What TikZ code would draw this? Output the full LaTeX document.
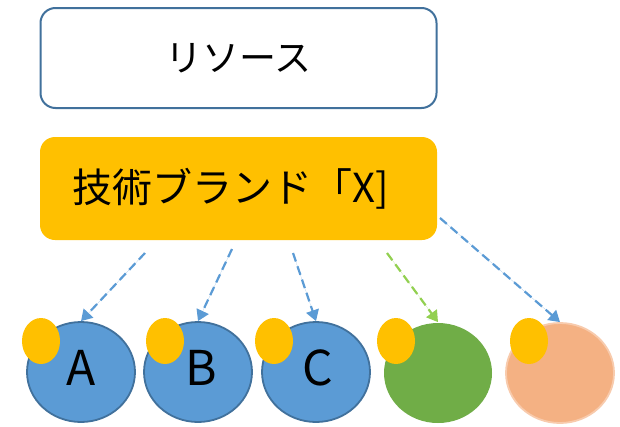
\documentclass[tikz,border=0pt]{standalone}
\usepackage{fontspec}
\setmainfont{Noto Sans CJK JP}
\usetikzlibrary{arrows.meta,shapes.geometric}
\definecolor{boxblue}{HTML}{41719C}
\definecolor{gold}{HTML}{FFC000}
\definecolor{cblue}{HTML}{5B9BD5}
\definecolor{cgreen}{HTML}{70AD47}
\definecolor{agreen}{HTML}{92D050}
\definecolor{peach}{HTML}{F4B183}
\definecolor{peachline}{HTML}{F8CBAD}
\tikzset{
  x=1pt, y=-1pt,
  topbox/.style={draw=boxblue, line width=2pt, fill=white, rounded corners=15pt, minimum width=396pt, minimum height=100pt, inner sep=0pt},
  brandbox/.style={fill=gold, rounded corners=15pt, minimum width=397pt, minimum height=103pt, inner sep=0pt},
  unit/.style={ellipse, minimum width=108pt, minimum height=100pt, inner sep=0pt, line width=1.8pt},
  dot/.style={ellipse, fill=gold, minimum width=38pt, minimum height=46pt, inner sep=0pt},
  link/.style={dash pattern=on 9pt off 5pt, line width=2.2pt, -{Triangle[width=13pt,length=11pt]}},
}
\begin{document}
\begin{tikzpicture}
\useasboundingbox[fill=white] (0,0) rectangle (620,426);
\node[topbox] (res) at (238.5,58) {\fontsize{37pt}{40pt}\selectfont リソース};
\node[brandbox] (brand) at (238.5,188.5) {};
\node[anchor=west, inner sep=0pt] (brandtxt) at (72,189) {\fontsize{40pt}{44pt}\selectfont 技術ブランド「X]};
\node[unit, draw=boxblue, fill=cblue] (cA) at (81,372) {};
\node[unit, draw=boxblue, fill=cblue] (cB) at (198,372) {};
\node[unit, draw=boxblue, fill=cblue] (cC) at (316,372) {};
\node[unit, fill=cgreen] (cD) at (438,373) {};
\node[unit, draw=peachline, fill=peach] (cE) at (560,373) {};
\node[inner sep=0pt] (lA) at (81,368) {\fontsize{48pt}{50pt}\selectfont A};
\node[inner sep=0pt] (lB) at (201,368) {\fontsize{48pt}{50pt}\selectfont B};
\node[inner sep=0pt] (lC) at (318,368) {\fontsize{48pt}{50pt}\selectfont C};
\node[dot] (dA) at (41,341) {};
\node[dot] (dB) at (165,341) {};
\node[dot] (dC) at (274,341) {};
\node[dot] (dD) at (396,341) {};
\node[dot] (dE) at (529,341) {};
\coordinate (s1) at (145,253);
\coordinate (s2) at (232,249);
\coordinate (s3) at (293,253);
\coordinate (s4) at (387,253);
\coordinate (s5) at (440,218);
\draw[link, draw=cblue, fill=cblue] (s1) -- (cA.north);
\draw[link, draw=cblue, fill=cblue] (s2) -- (cB.north);
\draw[link, draw=cblue, fill=cblue] (s3) -- (cC.north);
\draw[link, draw=agreen, fill=agreen] (s4) -- (cD.north);
\draw[link, draw=cblue, fill=cblue] (s5) -- (cE.north);
\end{tikzpicture}
\end{document}
